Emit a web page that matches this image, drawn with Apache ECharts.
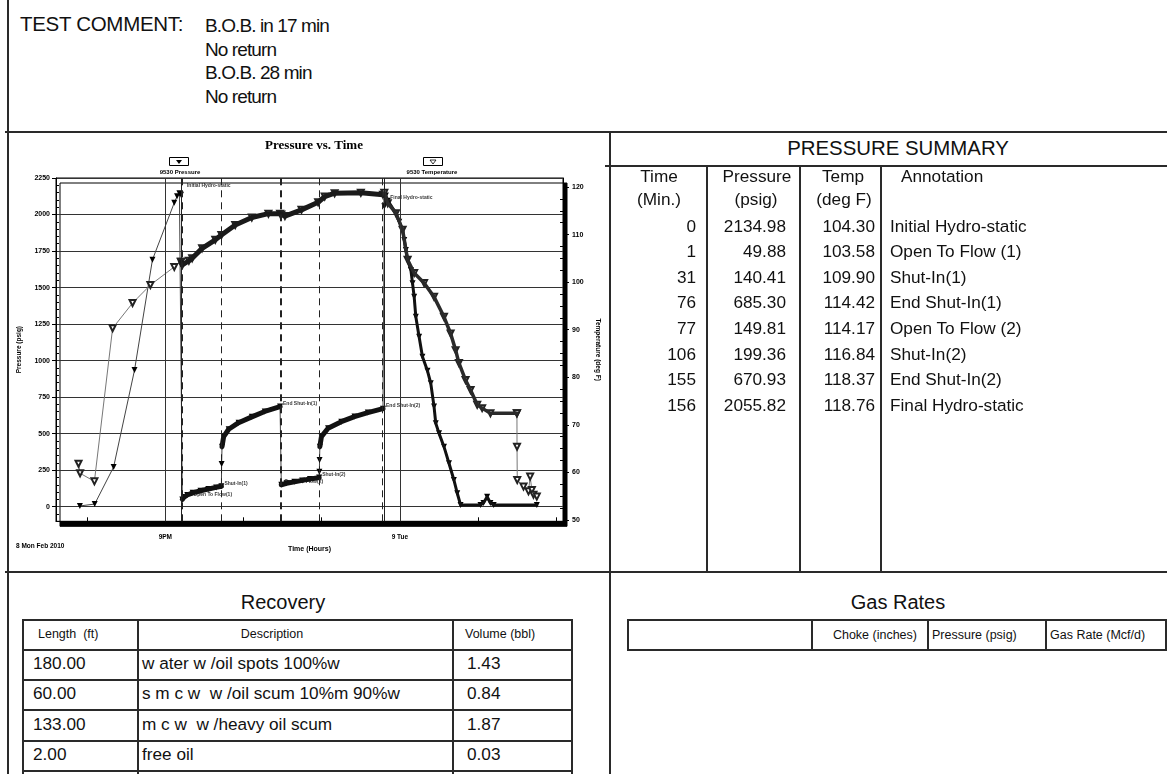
<!DOCTYPE html>
<html>
<head>
<meta charset="utf-8">
<script src="https://cdn.jsdelivr.net/npm/echarts@6/dist/echarts.min.js"></script>
<style>
  html, body { margin: 0; padding: 0; background: #fff; }
  #page { position: relative; width: 1167px; height: 774px; overflow: hidden;
          font-family: "Liberation Sans", Arial, sans-serif; color: #111; }
  .t { position: absolute; white-space: pre; line-height: 1; }
  .ln { position: absolute; background: #2a2a2a; }
  #chart { position: absolute; left: 8px; top: 132px; width: 602px; height: 440px; }
</style>
</head>
<body>
<div id="page"><div id="chart"></div></div>
<script>
// ---- data ----
const commentLines = ["B.O.B. in 17 min", "No return", "B.O.B. 28 min", "No return"];

const testStartHour = 21.2; // 9:12 PM, Mon 8 Feb 2010
const summaryMinutes = [0, 1, 31, 76, 77, 106, 155, 156];
const summaryPressure = [2134.98, 49.88, 140.41, 685.30, 149.81, 199.36, 670.93, 2055.82];
const summaryTemp = [104.30, 103.58, 109.90, 114.42, 114.17, 116.84, 118.37, 118.76];
const summaryNotes = ["Initial Hydro-static", "Open To Flow (1)", "Shut-In(1)", "End Shut-In(1)",
  "Open To Flow (2)", "Shut-In(2)", "End Shut-In(2)", "Final Hydro-static"];

const recoveryLength = ["180.00", "60.00", "133.00", "2.00"];
const recoveryDesc = ["w ater w /oil spots 100%w", "s m c w  w /oil scum 10%m 90%w", "m c w  w /heavy oil scum", "free oil"];
const recoveryVolume = ["1.43", "0.84", "1.87", "0.03"];
const gasHeaders = ["Choke (inches)", "Pressure (psig)", "Gas Rate (Mcf/d)"];

// time in hours since midnight Feb 8
const hourTicks = [20, 21, 22, 23, 24, 25, 26];
const hourLabelValues = [21, 24];
const hourLabelText = ["9PM", "9 Tue"];
const pressureTicks = [0, 250, 500, 750, 1000, 1250, 1500, 1750, 2000, 2250];
const tempTicks = [50, 60, 70, 80, 90, 100, 110, 120];

// 9530 Pressure (psig)
const pressureRunIn = [[19.907, 5], [20.097, 18], [20.339, 272], [20.606, 935], [20.835, 1690],
  [21.114, 2080], [21.15, 2125], [21.18, 2145], [21.2, 2135]];
const pressureFlow1 = [[21.217, 50], [21.24, 66], [21.28, 80], [21.35, 95], [21.45, 109],
  [21.55, 121], [21.65, 132], [21.717, 140]];
const pressureRise1 = [[21.72, 292]];
const pressureShutIn1 = [[21.725, 411], [21.746, 479], [21.81, 530], [21.937, 575], [22.106, 615],
  [22.271, 652], [22.467, 685]];
const pressureFlow2 = [[22.483, 150], [22.55, 160], [22.65, 170], [22.75, 180], [22.85, 190], [22.967, 199]];
const pressureRise2 = [[22.97, 240], [22.972, 320]];
const pressureShutIn2 = [[22.976, 411], [22.996, 480], [23.081, 537], [23.25, 582], [23.419, 617],
  [23.589, 644], [23.783, 671]];
const pressurePullOut = [[23.8, 2056], [23.82, 2130], [23.844, 2095], [23.949, 2008], [23.991, 1951],
  [24.034, 1894], [24.055, 1825], [24.076, 1757], [24.098, 1689], [24.14, 1620], [24.161, 1529],
  [24.182, 1437], [24.203, 1300], [24.245, 1164], [24.288, 1027], [24.352, 930], [24.394, 845],
  [24.436, 685], [24.458, 571], [24.5, 502], [24.563, 411], [24.627, 297], [24.69, 183],
  [24.733, 92], [24.775, 12], [25.03, 12], [25.068, 25], [25.115, 68], [25.157, 25],
  [25.199, 12], [25.75, 12]];

// 9530 Temperature (deg F)
const temperatureRunIn = [[19.89, 61.8], [19.91, 59.8], [20.093, 58.1], [20.326, 90.3], [20.581, 95.6],
  [20.809, 99.4], [21.114, 103.2], [21.2, 104.3]];
const temperatureTest = [[21.2, 104.3], [21.217, 103.6], [21.301, 104.5], [21.343, 105.0], [21.47, 107.1],
  [21.639, 108.9], [21.717, 109.9], [21.894, 112.0], [22.106, 113.6], [22.318, 114.4], [22.467, 114.4],
  [22.483, 114.2], [22.529, 113.9], [22.741, 115.2], [22.954, 116.8], [23.038, 118.0], [23.165, 118.7],
  [23.5, 118.8], [23.783, 118.4]];
const temperaturePullOut = [[23.8, 118.8], [23.844, 116.6], [23.949, 114.5], [24.034, 111.0],
  [24.098, 104.7], [24.182, 101.9], [24.309, 99.8], [24.436, 96.9], [24.563, 92.7], [24.648, 89.2],
  [24.712, 85.7], [24.754, 83.0], [24.839, 79.4], [24.903, 77.3], [24.988, 74.2], [25.051, 73.5],
  [25.157, 72.4], [25.496, 72.4]];
const temperatureTail = [[25.496, 72.4], [25.497, 65.4], [25.5, 58.4], [25.58, 57.0], [25.644, 56.0],
  [25.665, 59.1], [25.687, 56.3], [25.707, 55.3], [25.75, 54.9]];

// ---- page ----
const page = document.getElementById("page");
function txt(s, x, y, size, align, extra) {
  const d = document.createElement("div");
  d.className = "t";
  d.textContent = s;
  d.style.left = x + "px";
  d.style.top = y + "px";
  d.style.fontSize = size + "px";
  const tx = align === "right" ? "-100%" : align === "center" ? "-50%" : "0";
  d.style.transform = "translate(" + tx + ", -50%)";
  if (extra) Object.assign(d.style, extra);
  page.appendChild(d);
}
function box(x, y, w, h) {
  const d = document.createElement("div");
  d.className = "ln";
  d.style.left = x + "px"; d.style.top = y + "px";
  d.style.width = w + "px"; d.style.height = h + "px";
  page.appendChild(d);
}
const hline = (x1, x2, y) => box(x1, y, x2 - x1, 2);
const vline = (x, y1, y2) => box(x, y1, 2, y2 - y1);

// frame
vline(7, 0, 774);
hline(5, 1167, 131);
vline(609, 131, 774);
hline(605, 1167, 165);
hline(5, 1167, 571);
[706, 799, 880].forEach(x => vline(x, 165, 572));

// test comment
txt("TEST COMMENT:", 20, 24, 20.5, "left", { letterSpacing: "-0.3px" });
commentLines.forEach((s, i) => txt(s, 205, 25 + i * 23.5, 19, "left", { letterSpacing: "-0.9px" }));

// pressure summary
txt("PRESSURE SUMMARY", 898, 148, 20.4, "center");
const fs = 17.2;
txt("Time", 659, 177, fs, "center"); txt("(Min.)", 659, 200, fs, "center");
txt("Pressure", 757, 177, fs, "center"); txt("(psig)", 756, 200, fs, "center");
txt("Temp", 843, 177, fs, "center"); txt("(deg F)", 844, 200, fs, "center");
txt("Annotation", 901, 177, fs, "left");
summaryMinutes.forEach((m, i) => {
  const y = 226.5 + i * 25.6;
  txt(String(m), 696, y, fs, "right");
  txt(summaryPressure[i].toFixed(2), 786, y, fs, "right");
  txt(summaryTemp[i].toFixed(2), 875, y, fs, "right");
  txt(summaryNotes[i], 890, y, fs, "left");
});

// recovery
txt("Recovery", 283, 602, 20, "center");
[619, 649, 679, 709, 740, 770].forEach(y => hline(22, 573, y));
[22, 137, 452, 571].forEach(x => vline(x, 619, 774));
txt("Length  (ft)", 38, 634, 12.5, "left");
txt("Description", 272, 634, 12.5, "center");
txt("Volume (bbl)", 465, 634, 12.5, "left");
recoveryLength.forEach((s, i) => {
  const y = 663.5 + i * 30.5;
  txt(s, 33, y, fs, "left");
  txt(recoveryDesc[i], 142, y, fs, "left");
  txt(recoveryVolume[i], 467, y, fs, "left");
});

// gas rates
txt("Gas Rates", 898, 602, 20, "center");
hline(627, 1167, 619); hline(627, 1167, 649);
[627, 811, 927, 1045, 1165].forEach(x => vline(x, 619, 651));
txt(gasHeaders[0], 917, 635, 12.5, "right");
txt(gasHeaders[1], 932, 635, 12.5, "left");
txt(gasHeaders[2], 1050, 635, 12.5, "left");

// ---- chart ----
const chart = echarts.init(document.getElementById("chart"));
const toHour = m => testStartHour + m / 60;

const pressurePath = [].concat(pressureRunIn, pressureFlow1, pressureRise1, pressureShutIn1,
  pressureFlow2, pressureRise2, pressureShutIn2, pressurePullOut);
const temperaturePath = [].concat(temperatureRunIn, temperatureTest, temperaturePullOut, temperatureTail);

const eventLines = summaryMinutes.map((m, i) => ({
  xAxis: toHour(m),
  lineStyle: { color: "#222", width: 1, type: summaryNotes[i].indexOf("Hydro") >= 0 ? "solid" : [7, 5] }
}));
const gridLines = hourLabelValues.map(h => ({ xAxis: h, lineStyle: { color: "#333", width: 1, type: "solid" } }));

const noteData = summaryMinutes.map((m, i) => {
  const note = summaryNotes[i];
  let offset = [1, -3];
  if (note.indexOf("Hydro") >= 0) offset = [4, -9];
  if (note === "Open To Flow (1)") offset = [9, -5];
  return { value: [toHour(m), summaryPressure[i]], name: note.replace(" (", "("), label: { offset: offset } };
});

const lbl = { fontFamily: "Liberation Sans", fontWeight: "bold", color: "#000" };
const plain = v => String(v);
const band = (data, yIdx, width, color) => ({
  type: "line", data: data, yAxisIndex: yIdx, showSymbol: false, symbol: "none", z: 4,
  lineStyle: { color: color, width: width, cap: "round", join: "round" }, silent: true
});

chart.setOption({
  animation: false,
  grid: {
    left: 45, top: 46, width: 510, height: 343.3, show: true,
    backgroundColor: "#fff", borderColor: "#000", borderWidth: 1,
    shadowColor: "#000", shadowBlur: 0, shadowOffsetX: 4, shadowOffsetY: 5
  },
  xAxis: {
    type: "value", min: 19.602, max: 26.085,
    axisLine: { show: true, onZero: false, lineStyle: { color: "#000", width: 1 } },
    axisTick: { show: true, inside: true, length: 4, customValues: hourTicks, lineStyle: { color: "#000" } },
    axisLabel: {
      customValues: hourLabelValues, margin: 12, fontSize: 6.5, ...lbl,
      formatter: v => hourLabelText[hourLabelValues.indexOf(v)] || ""
    },
    splitLine: { show: false },
    name: "Time (Hours)", nameLocation: "middle", nameGap: 21,
    nameTextStyle: { fontSize: 7, ...lbl }
  },
  yAxis: [
    {
      type: "value", min: -100, max: 2250, position: "left",
      axisLine: { show: true, onZero: false, lineStyle: { color: "#000", width: 1 } },
      axisTick: { show: true, length: 4, customValues: pressureTicks, lineStyle: { color: "#000" } },
      axisLabel: { customValues: pressureTicks, margin: 6, fontSize: 7, formatter: plain, ...lbl },
      splitLine: { show: true, lineStyle: { color: "#333", width: 1 } },
      name: "Pressure (psig)", nameLocation: "middle", nameGap: 33,
      nameTextStyle: { fontSize: 6.5, ...lbl }
    },
    {
      type: "value", min: 49.7, max: 121.9, position: "right",
      axisLine: { show: true, onZero: false, lineStyle: { color: "#000", width: 1 } },
      axisTick: { show: true, length: 6, customValues: tempTicks, lineStyle: { color: "#000" } },
      axisLabel: { customValues: tempTicks, margin: 9, fontSize: 7, formatter: plain, ...lbl },
      splitLine: { show: false },
      name: "Temperature (deg F)", nameLocation: "middle", nameGap: 31, nameRotate: -90,
      nameTextStyle: { fontSize: 6.5, ...lbl }
    },
    {
      type: "value", min: -100, max: 2250, position: "left",
      axisLine: { show: false },
      axisTick: { show: true, inside: true, length: 3,
        customValues: pressureTicks.flatMap(p => [p - 200, p - 150, p - 100, p - 50]).filter(p => p > -100),
        lineStyle: { color: "#000" } },
      axisLabel: { show: false }, splitLine: { show: false }
    },
    {
      type: "value", min: 49.7, max: 121.9, position: "right",
      axisLine: { show: false },
      axisTick: { show: true, inside: true, length: 3,
        customValues: tempTicks.flatMap(t => [t + 2.5, t + 5, t + 7.5]).filter(t => t < 121.9),
        lineStyle: { color: "#000" } },
      axisLabel: { show: false }, splitLine: { show: false }
    }
  ],
  graphic: [
    { type: "text", x: 306, y: 14, style: { text: "Pressure vs. Time", align: "center", verticalAlign: "middle",
      font: "bold 13px 'Liberation Serif'", fill: "#000" } },
    { type: "rect", shape: { x: 161.5, y: 25.5, width: 19, height: 8 }, style: { fill: "#fff", stroke: "#000", lineWidth: 1 } },
    { type: "polygon", shape: { points: [[168, 28], [174, 28], [171, 32]] }, style: { fill: "#000" } },
    { type: "text", x: 172, y: 40, style: { text: "9530 Pressure", align: "center", verticalAlign: "middle",
      font: "bold 6px 'Liberation Sans'", fill: "#000" } },
    { type: "rect", shape: { x: 415.5, y: 25.5, width: 19, height: 8 }, style: { fill: "#fff", stroke: "#000", lineWidth: 1 } },
    { type: "polygon", shape: { points: [[422, 28], [428, 28], [425, 32]] }, style: { fill: "#fff", stroke: "#000", lineWidth: 0.8 } },
    { type: "text", x: 424, y: 40, style: { text: "9530 Temperature", align: "center", verticalAlign: "middle",
      font: "bold 6px 'Liberation Sans'", fill: "#000" } },
    { type: "text", x: 8, y: 414, style: { text: "8 Mon Feb 2010", align: "left", verticalAlign: "middle",
      font: "bold 6.5px 'Liberation Sans'", fill: "#000" } }
  ],
  series: [
    {
      name: "9530 Pressure", type: "line", data: pressurePath, yAxisIndex: 0, z: 3,
      symbol: "triangle", symbolRotate: 180, symbolSize: 6, showAllSymbol: true,
      itemStyle: { color: "#000" }, lineStyle: { color: "#444", width: 1 },
      markLine: { silent: true, symbol: ["none", "none"], label: { show: false },
        data: gridLines.concat(eventLines) }
    },
    {
      name: "9530 Temperature", type: "line", data: temperaturePath, yAxisIndex: 1, z: 3,
      symbol: "emptyTriangle", symbolRotate: 180, symbolSize: 6, showAllSymbol: true,
      itemStyle: { color: "#222" }, lineStyle: { color: "#777", width: 1 }
    },
    band(pressureFlow1, 0, 5, "#111"),
    band(pressureShutIn1, 0, 5, "#111"),
    band(pressureFlow2, 0, 5, "#111"),
    band(pressureShutIn2, 0, 5, "#111"),
    band(pressurePullOut, 0, 3, "#111"),
    band(temperatureTest, 1, 5, "#1a1a1a"),
    band(temperaturePullOut, 1, 3.5, "#2a2a2a"),
    {
      type: "scatter", data: noteData, yAxisIndex: 0, symbolSize: 0, z: 2, silent: true,
      label: { show: true, position: "right", distance: 2, formatter: "{b}", fontSize: 5, ...lbl }
    }
  ]
});
</script>
</body>
</html>
